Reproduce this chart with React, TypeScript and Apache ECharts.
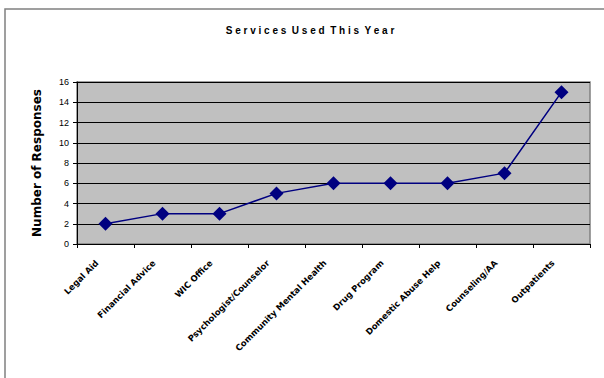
import React, { useEffect, useRef } from "react";
import * as echarts from "echarts";

const services = [
  "Legal Aid",
  "Financial Advice",
  "WIC Office",
  "Psychologist/Counselor",
  "Community Mental Health",
  "Drug Program",
  "Domestic Abuse Help",
  "Counseling/AA",
  "Outpatients",
];
const responses = [2, 3, 3, 5, 6, 6, 6, 7, 15];
const yTicks = { min: 0, max: 16, interval: 2 };

export default function App() {
  const ref = useRef<HTMLDivElement>(null);

  useEffect(() => {
    if (!ref.current) return;
    const chart = echarts.init(ref.current, undefined, { renderer: "svg" });
    chart.setOption({
      animation: false,
      backgroundColor: "#ffffff",
      title: {
        text: "S e r v i c e s  U s e d  T h i s  Y e a r",
        left: 305,
        top: 20,
        textAlign: "center",
        textStyle: {
          fontFamily: "Arial, Liberation Sans, sans-serif",
          fontSize: 10,
          fontWeight: "bold",
          color: "#000",
        },
      },
      graphic: [
        {
          type: "rect",
          shape: { x: 5, y: 9, width: 700, height: 500 },
          style: { fill: "none", stroke: "#808080", lineWidth: 1.5 },
          silent: true,
        },
      ],
      grid: {
        left: 77,
        top: 82,
        right: 14,
        bottom: 134,
        show: true,
        backgroundColor: "#c0c0c0",
        borderColor: "#808080",
        borderWidth: 1.5,
      },
      xAxis: {
        type: "category",
        data: services,
        boundaryGap: true,
        axisLine: { lineStyle: { color: "#000", width: 1 } },
        axisTick: { show: true, length: 4, lineStyle: { color: "#000" } },
        axisLabel: {
          rotate: 45,
          interval: 0,
          margin: 9,
          padding: [0, 12, 0, 0],
          fontSize: 8.5,
          fontWeight: "bold",
          color: "#000",
          fontFamily: "DejaVu Sans, sans-serif",
        },
      },
      yAxis: {
        type: "value",
        min: yTicks.min,
        max: yTicks.max,
        interval: yTicks.interval,
        name: "Number of Responses",
        nameLocation: "middle",
        nameRotate: 90,
        nameGap: 34,
        nameTextStyle: {
          fontSize: 12,
          fontWeight: "bold",
          color: "#000",
          fontFamily: "DejaVu Sans, sans-serif",
        },
        axisLine: { show: true, lineStyle: { color: "#000", width: 1 } },
        axisTick: { show: true, length: 4, lineStyle: { color: "#000" } },
        axisLabel: {
          fontSize: 9,
          color: "#000",
          margin: 8,
          fontFamily: "Arial, Liberation Sans, sans-serif",
        },
        splitLine: { show: true, lineStyle: { color: "#000", width: 1 } },
      },
      series: [
        {
          type: "line",
          data: responses,
          symbol: "diamond",
          symbolSize: 14,
          lineStyle: { color: "#000080", width: 1.5 },
          itemStyle: { color: "#000080" },
        },
      ],
    });
    return () => chart.dispose();
  }, []);

  return <div ref={ref} style={{ width: 604, height: 378, position: "absolute", left: 0, top: 0 }} />;
}
